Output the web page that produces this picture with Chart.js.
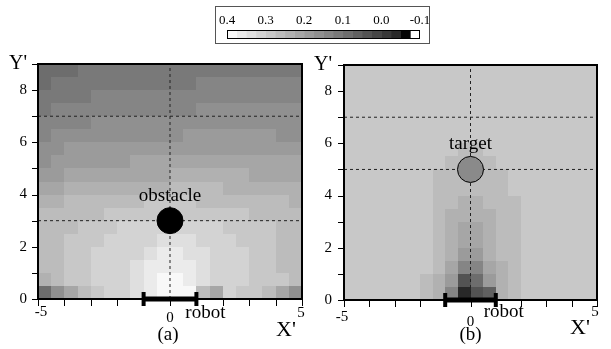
<!DOCTYPE html>
<html>
<head>
<meta charset="utf-8">
<script src="https://cdn.jsdelivr.net/npm/chart.js@4.4.0/dist/chart.umd.min.js"></script>
<style>
  html, body { margin: 0; padding: 0; background: #fff; }
  #wrap { position: relative; width: 611px; height: 349px; }
  #wrap canvas { position: absolute; left: 0; top: 0; }
</style>
</head>
<body>
<div id="wrap">
  <canvas id="plotA" width="611" height="349"></canvas>
  <canvas id="plotB" width="611" height="349"></canvas>
  <canvas id="scaleBar" width="611" height="349"></canvas>
</div>
<script>
// grid cell centres (X', Y')
const xCells = [-4.75, -4.25, -3.75, -3.25, -2.75, -2.25, -1.75, -1.25, -0.75, -0.25,
                0.25, 0.75, 1.25, 1.75, 2.25, 2.75, 3.25, 3.75, 4.25, 4.75];
const yCells = [8.75, 8.25, 7.75, 7.25, 6.75, 6.25, 5.75, 5.25, 4.75, 4.25,
                3.75, 3.25, 2.75, 2.25, 1.75, 1.25, 0.75, 0.25];

// colour scale: 0.4 .. -0.1 in steps of 0.025
const levelTop = 0.4;
const levelStep = 0.025;
const scaleMin = -0.1;
const grays = [248, 235, 223, 211, 200, 188, 177, 166, 155, 144, 133, 121, 109, 96, 83, 70, 56, 40, 5, 255];

// (a) obstacle
const valuesA = [
  [0.09,0.09,0.09,0.11,0.11,0.11,0.11,0.11,0.11,0.11,0.11,0.11,0.11,0.11,0.11,0.11,0.11,0.11,0.11,0.11],
  [0.09,0.11,0.11,0.11,0.11,0.11,0.11,0.11,0.11,0.11,0.11,0.11,0.14,0.14,0.14,0.14,0.14,0.14,0.14,0.14],
  [0.11,0.11,0.11,0.11,0.14,0.14,0.14,0.14,0.14,0.14,0.14,0.14,0.14,0.14,0.14,0.14,0.14,0.14,0.14,0.14],
  [0.11,0.14,0.14,0.14,0.14,0.14,0.14,0.14,0.14,0.14,0.14,0.14,0.16,0.16,0.16,0.16,0.16,0.16,0.16,0.16],
  [0.14,0.14,0.14,0.14,0.16,0.16,0.16,0.16,0.16,0.16,0.16,0.16,0.16,0.16,0.16,0.16,0.16,0.16,0.16,0.16],
  [0.14,0.16,0.16,0.16,0.16,0.16,0.16,0.16,0.16,0.16,0.16,0.19,0.19,0.19,0.19,0.19,0.19,0.19,0.16,0.16],
  [0.16,0.16,0.19,0.19,0.19,0.19,0.19,0.19,0.19,0.19,0.19,0.19,0.19,0.19,0.19,0.19,0.19,0.19,0.19,0.19],
  [0.16,0.19,0.19,0.19,0.19,0.19,0.19,0.21,0.21,0.21,0.21,0.21,0.21,0.21,0.21,0.21,0.21,0.21,0.21,0.21],
  [0.19,0.19,0.21,0.21,0.21,0.21,0.21,0.21,0.21,0.21,0.24,0.24,0.24,0.24,0.24,0.24,0.21,0.21,0.21,0.21],
  [0.21,0.21,0.24,0.24,0.24,0.24,0.24,0.24,0.24,0.24,0.26,0.26,0.26,0.26,0.24,0.24,0.24,0.24,0.24,0.24],
  [0.24,0.24,0.26,0.26,0.26,0.26,0.26,0.26,0.29,0.29,0.29,0.29,0.26,0.26,0.26,0.26,0.26,0.26,0.26,0.24],
  [0.26,0.26,0.26,0.26,0.26,0.29,0.29,0.29,0.29,0.29,0.29,0.29,0.29,0.29,0.29,0.29,0.26,0.26,0.26,0.26],
  [0.26,0.26,0.26,0.29,0.29,0.29,0.31,0.31,0.31,0.31,0.31,0.31,0.31,0.31,0.29,0.29,0.29,0.29,0.26,0.26],
  [0.26,0.26,0.29,0.29,0.29,0.31,0.31,0.31,0.31,0.34,0.34,0.34,0.31,0.31,0.31,0.29,0.29,0.29,0.26,0.26],
  [0.26,0.26,0.29,0.29,0.31,0.31,0.31,0.31,0.34,0.36,0.36,0.34,0.34,0.31,0.31,0.31,0.29,0.29,0.26,0.26],
  [0.26,0.26,0.29,0.29,0.31,0.31,0.31,0.34,0.36,0.36,0.36,0.36,0.34,0.31,0.31,0.31,0.29,0.29,0.26,0.26],
  [0.24,0.26,0.29,0.29,0.31,0.31,0.31,0.34,0.36,0.39,0.39,0.36,0.34,0.31,0.31,0.31,0.29,0.29,0.29,0.26],
  [0.09,0.16,0.21,0.26,0.29,0.31,0.31,0.34,0.36,0.39,0.39,0.39,0.26,0.21,0.31,0.29,0.29,0.26,0.21,0.16]
];

// (b) target
const valuesB = [
  [0.29,0.29,0.29,0.29,0.29,0.29,0.29,0.29,0.29,0.29,0.29,0.29,0.29,0.29,0.29,0.29,0.29,0.29,0.29,0.29],
  [0.29,0.29,0.29,0.29,0.29,0.29,0.29,0.29,0.29,0.29,0.29,0.29,0.29,0.29,0.29,0.29,0.29,0.29,0.29,0.29],
  [0.29,0.29,0.29,0.29,0.29,0.29,0.29,0.29,0.29,0.29,0.29,0.29,0.29,0.29,0.29,0.29,0.29,0.29,0.29,0.29],
  [0.29,0.29,0.29,0.29,0.29,0.29,0.29,0.29,0.29,0.29,0.29,0.29,0.29,0.29,0.29,0.29,0.29,0.29,0.29,0.29],
  [0.29,0.29,0.29,0.29,0.29,0.29,0.29,0.29,0.29,0.29,0.29,0.29,0.29,0.29,0.29,0.29,0.29,0.29,0.29,0.29],
  [0.29,0.29,0.29,0.29,0.29,0.29,0.29,0.29,0.29,0.29,0.29,0.29,0.29,0.29,0.29,0.29,0.29,0.29,0.29,0.29],
  [0.29,0.29,0.29,0.29,0.29,0.29,0.29,0.29,0.29,0.26,0.26,0.29,0.29,0.29,0.29,0.29,0.29,0.29,0.29,0.29],
  [0.29,0.29,0.29,0.29,0.29,0.29,0.29,0.29,0.26,0.26,0.26,0.26,0.29,0.29,0.29,0.29,0.29,0.29,0.29,0.29],
  [0.29,0.29,0.29,0.29,0.29,0.29,0.29,0.26,0.26,0.26,0.26,0.26,0.26,0.29,0.29,0.29,0.29,0.29,0.29,0.29],
  [0.29,0.29,0.29,0.29,0.29,0.29,0.29,0.26,0.26,0.26,0.26,0.26,0.26,0.29,0.29,0.29,0.29,0.29,0.29,0.29],
  [0.29,0.29,0.29,0.29,0.29,0.29,0.29,0.26,0.26,0.24,0.24,0.26,0.26,0.26,0.29,0.29,0.29,0.29,0.29,0.29],
  [0.29,0.29,0.29,0.29,0.29,0.29,0.29,0.26,0.24,0.24,0.24,0.24,0.26,0.26,0.29,0.29,0.29,0.29,0.29,0.29],
  [0.29,0.29,0.29,0.29,0.29,0.29,0.29,0.26,0.24,0.21,0.21,0.24,0.26,0.26,0.29,0.29,0.29,0.29,0.29,0.29],
  [0.29,0.29,0.29,0.29,0.29,0.29,0.29,0.26,0.24,0.21,0.21,0.24,0.26,0.26,0.29,0.29,0.29,0.29,0.29,0.29],
  [0.29,0.29,0.29,0.29,0.29,0.29,0.29,0.26,0.24,0.19,0.19,0.24,0.26,0.26,0.29,0.29,0.29,0.29,0.29,0.29],
  [0.29,0.29,0.29,0.29,0.29,0.29,0.29,0.26,0.21,0.14,0.14,0.21,0.24,0.26,0.29,0.29,0.29,0.29,0.29,0.29],
  [0.29,0.29,0.29,0.29,0.29,0.29,0.26,0.24,0.19,0.04,0.09,0.19,0.24,0.26,0.29,0.29,0.29,0.29,0.29,0.29],
  [0.29,0.29,0.29,0.29,0.29,0.29,0.26,0.24,0.14,-0.04,0.04,0.06,0.24,0.26,0.29,0.29,0.29,0.29,0.29,0.29]
];

const obstacleA = [{x: 0, y: 3}];
const targetB = [{x: 0, y: 5}];
const robotSpan = [-1, 1];
const guideX = 0;
const guidesYA = [3, 7];
const guidesYB = [5, 7];
const yLabelled = [0, 2, 4, 6, 8];

Chart.defaults.font.family = "'Liberation Serif', 'Times New Roman', serif";
Chart.defaults.color = '#000';

function levelOf(v) {
  const k = Math.floor((levelTop - v) / levelStep + 1e-9);
  return Math.max(0, Math.min(grays.length - 2, k));
}
function grayCss(k) {
  const g = grays[k];
  return 'rgb(' + g + ',' + g + ',' + g + ')';
}

// filled cells, drawn under the datasets
function heatLayer(values) {
  return {
    id: 'heat',
    beforeDatasetsDraw(chart) {
      const ctx = chart.ctx, xs = chart.scales.x, ys = chart.scales.y;
      const hx = Math.abs(xCells[1] - xCells[0]) / 2;
      const hy = Math.abs(yCells[0] - yCells[1]) / 2;
      ctx.save();
      values.forEach((row, r) => {
        row.forEach((v, c) => {
          const l = Math.round(xs.getPixelForValue(xCells[c] - hx));
          const rr = Math.round(xs.getPixelForValue(xCells[c] + hx));
          const t = Math.round(ys.getPixelForValue(yCells[r] + hy));
          const b = Math.round(ys.getPixelForValue(yCells[r] - hy));
          ctx.fillStyle = grayCss(levelOf(v));
          ctx.fillRect(l, t, rr - l, b - t);
        });
      });
      ctx.restore();
    }
  };
}

// frame round the plot plus the outward tick marks
const frame = {
  id: 'frame',
  afterDatasetsDraw(chart) {
    const a = chart.chartArea, ctx = chart.ctx, xs = chart.scales.x, ys = chart.scales.y;
    ctx.save();
    ctx.strokeStyle = '#000';
    ctx.lineWidth = 1;
    ctx.beginPath();
    xs.ticks.forEach(t => {
      const px = Math.round(xs.getPixelForValue(t.value)) + 0.5;
      ctx.moveTo(px, a.bottom);
      ctx.lineTo(px, a.bottom + 7);
    });
    ys.ticks.forEach(t => {
      const py = Math.round(ys.getPixelForValue(t.value)) + 0.5;
      ctx.moveTo(a.left, py);
      ctx.lineTo(a.left - 6, py);
    });
    ctx.stroke();
    ctx.lineWidth = 2;
    ctx.strokeRect(a.left, a.top, a.right - a.left, a.bottom - a.top);
    ctx.restore();
  }
};

// free text; x in data units, y in data units or from the bottom of the plot
function textLayer(items) {
  return {
    id: 'texts',
    afterDraw(chart) {
      const ctx = chart.ctx, xs = chart.scales.x, ys = chart.scales.y;
      ctx.save();
      ctx.fillStyle = '#000';
      ctx.textAlign = 'center';
      ctx.textBaseline = 'middle';
      items.forEach(it => {
        ctx.font = it.size + "px 'Liberation Serif', serif";
        const px = xs.getPixelForValue(it.x) + (it.dx || 0);
        const py = (it.y === undefined ? chart.chartArea.bottom : ys.getPixelForValue(it.y)) + (it.dy || 0);
        ctx.fillText(it.text, px, py);
      });
      ctx.restore();
    }
  };
}

function guideSets(ys) {
  const sets = [{ data: [{x: guideX, y: 0}, {x: guideX, y: 9}] }];
  ys.forEach(v => sets.push({ data: [{x: -5, y: v}, {x: 5, y: v}] }));
  return sets.map(s => Object.assign(s, {
    showLine: true, borderColor: '#222', borderWidth: 1, borderDash: [3, 3],
    pointRadius: 0, order: 3
  }));
}

function makeMap(id, values, pad, labelGap, guides, marker, markerFill, items) {
  return new Chart(document.getElementById(id), {
    type: 'scatter',
    data: {
      datasets: [
        {
          data: robotSpan.map(v => ({x: v, y: 0})),
          showLine: true, borderColor: '#000', borderWidth: 5,
          pointStyle: 'line', pointRotation: 90, pointRadius: 7,
          pointBorderWidth: 4, pointBorderColor: '#000', clip: false, order: 1
        },
        {
          data: marker, pointRadius: 13, pointBackgroundColor: markerFill,
          pointBorderColor: '#000', pointBorderWidth: 1, order: 2
        }
      ].concat(guideSets(guides))
    },
    options: {
      responsive: false,
      animation: false,
      devicePixelRatio: 1,
      layout: { padding: pad },
      plugins: { legend: { display: false }, tooltip: { enabled: false } },
      scales: {
        x: {
          type: 'linear', min: -5, max: 5,
          ticks: { stepSize: 1, autoSkip: false, callback: () => '' },
          grid: { display: false, drawTicks: false },
          border: { color: '#000', width: 1.5 },
          afterFit: s => { s.height = 10; }
        },
        y: {
          type: 'linear', min: 0, max: 9,
          ticks: {
            stepSize: 1, padding: labelGap, autoSkip: false,
            callback: v => v === 9 ? "Y'" : (yLabelled.includes(v) ? String(v) : ''),
            font: c => ({ size: c.tick && c.tick.value === 9 ? 20 : 15 })
          },
          grid: { display: false, drawTicks: false },
          border: { color: '#000', width: 1.5 },
          afterFit: s => { s.width = 38; }
        }
      }
    },
    plugins: [heatLayer(values), frame, textLayer(items)]
  });
}

makeMap('plotA', valuesA, { left: 0, top: 64, right: 309, bottom: 40 }, 11, guidesYA, obstacleA, '#000', [
  { text: '-5', x: -5, dx: 3, dy: 13, size: 15 },
  { text: '0', x: 0, dx: 0, dy: 19, size: 15 },
  { text: '5', x: 5, dx: -1, dy: 14, size: 15 },
  { text: "X'", x: 5, dx: -16, dy: 31, size: 22 },
  { text: 'robot', x: 1, dx: 9, dy: 14, size: 19 },
  { text: '(a)', x: 0, dx: -2, dy: 36, size: 19 },
  { text: 'obstacle', x: 0, y: 3, dy: -25, size: 19 }
]);

makeMap('plotB', valuesB, { left: 306, top: 65, right: 4, bottom: 39 }, 12, guidesYB, targetB, '#8a8a8a', [
  { text: '-5', x: -5, dx: -2, dy: 17, size: 15 },
  { text: '0', x: 0, dx: 0, dy: 22, size: 15 },
  { text: '5', x: 5, dx: -2, dy: 12, size: 15 },
  { text: "X'", x: 5, dx: -17, dy: 28, size: 22 },
  { text: 'robot', x: 1, dx: 8, dy: 12, size: 19 },
  { text: '(b)', x: 0, dx: 0, dy: 35, size: 19 },
  { text: 'target', x: 0, y: 5, dy: -25, size: 19 }
]);

// colour scale box
const scaleFrame = {
  id: 'scaleFrame',
  afterDatasetsDraw(chart) {
    const a = chart.chartArea, ctx = chart.ctx;
    ctx.save();
    ctx.strokeStyle = '#000';
    ctx.lineWidth = 1;
    ctx.strokeRect(a.left + 0.5, a.top + 0.5, a.right - a.left - 1, a.bottom - a.top - 1);
    ctx.strokeStyle = '#555';
    ctx.strokeRect(a.left - 11.5, a.top - 23.5, a.right - a.left + 21, a.bottom - a.top + 28);
    ctx.restore();
  }
};

new Chart(document.getElementById('scaleBar'), {
  type: 'bar',
  data: {
    labels: [''],
    datasets: grays.map((g, k) => ({
      data: [[levelTop - k * levelStep, levelTop - (k + 1) * levelStep]],
      backgroundColor: grayCss(k), grouped: false,
      barPercentage: 1, categoryPercentage: 1, borderWidth: 0
    }))
  },
  options: {
    indexAxis: 'y',
    responsive: false,
    animation: false,
    devicePixelRatio: 1,
    layout: { padding: { left: 227, right: 191, top: 10, bottom: 310 } },
    plugins: { legend: { display: false }, tooltip: { enabled: false } },
    scales: {
      x: {
        type: 'linear', position: 'top', min: scaleMin, max: levelTop, reverse: true,
        ticks: {
          stepSize: 0.1, autoSkip: false, maxRotation: 0, padding: 2, font: { size: 13 },
          callback: v => (Math.round(v * 10) / 10).toFixed(1)
        },
        grid: { display: false, drawTicks: false },
        border: { display: false },
        afterFit: s => { s.height = 20; }
      },
      y: { display: false }
    }
  },
  plugins: [scaleFrame]
});
</script>
</body>
</html>
